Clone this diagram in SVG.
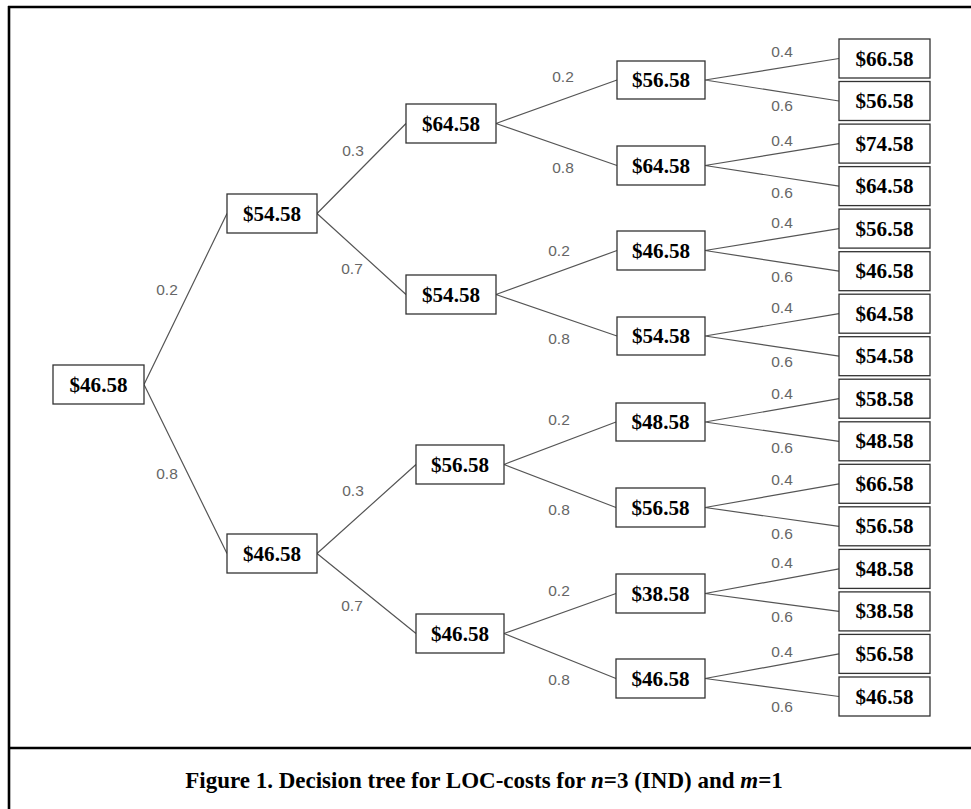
<svg xmlns="http://www.w3.org/2000/svg" width="971" height="809" viewBox="0 0 971 809">
<style>
.frame{stroke:#000;stroke-width:2.6;fill:none}
.box{fill:#fff;stroke:#333;stroke-width:1.3}
.val{font-family:"Liberation Serif","Times New Roman",serif;font-weight:bold;font-size:20px;fill:#000;text-anchor:middle}
.edge{stroke:#555;stroke-width:1.2;fill:none}
.p{font-family:"Liberation Sans",Arial,sans-serif;font-size:15.5px;fill:#666;text-anchor:middle}
.cap{font-family:"Liberation Serif","Times New Roman",serif;font-weight:bold;font-size:23px;fill:#000;text-anchor:middle}
</style>
<rect width="971" height="809" fill="#fff"/>
<g id="frame">
<line class="frame" x1="9" y1="6" x2="9" y2="809"/>
<line class="frame" x1="8" y1="7" x2="971" y2="7"/>
<line class="frame" x1="8" y1="748" x2="971" y2="748"/>
</g>
<g id="connectors">
<path class="edge" d="M144 384.5L227 213.5M144 384.5L227 553.5"/>
<path class="edge" d="M317 213.5L406 123.5M317 213.5L406 294.5M317 553.5L416 464.5M317 553.5L416 633.5"/>
<path class="edge" d="M496 123.5L617 80M496 123.5L617 165.5M496 294.5L617 250.5M496 294.5L617 336M504 464.5L616 422M504 464.5L616 507.5M504 633.5L616 593.5M504 633.5L616 678.5"/>
<path class="edge" d="M705 80L839 58.5M705 80L839 101M705 165.5L839 143.6M705 165.5L839 186.1M705 250.5L839 228.6M705 250.5L839 271.2M705 336L839 313.7M705 336L839 356.2M705 422L839 398.7M705 422L839 441.3M705 507.5L839 483.8M705 507.5L839 526.3M705 593.5L839 568.9M705 593.5L839 611.4M705 678.5L839 653.9M705 678.5L839 696.5"/>
<g id="edge-labels">
<text class="p" x="167" y="295">0.2</text>
<text class="p" x="167" y="479">0.8</text>
<text class="p" x="353" y="156">0.3</text>
<text class="p" x="352" y="274">0.7</text>
<text class="p" x="353" y="496">0.3</text>
<text class="p" x="352" y="611">0.7</text>
<text class="p" x="563" y="82">0.2</text>
<text class="p" x="563" y="173">0.8</text>
<text class="p" x="559" y="256">0.2</text>
<text class="p" x="559" y="344">0.8</text>
<text class="p" x="559" y="425">0.2</text>
<text class="p" x="559" y="515">0.8</text>
<text class="p" x="559" y="596">0.2</text>
<text class="p" x="559" y="685">0.8</text>
<text class="p" x="782" y="57">0.4</text>
<text class="p" x="782" y="111">0.6</text>
<text class="p" x="782" y="146">0.4</text>
<text class="p" x="782" y="198">0.6</text>
<text class="p" x="782" y="228">0.4</text>
<text class="p" x="782" y="282">0.6</text>
<text class="p" x="782" y="313">0.4</text>
<text class="p" x="782" y="367">0.6</text>
<text class="p" x="782" y="399">0.4</text>
<text class="p" x="782" y="453">0.6</text>
<text class="p" x="782" y="485">0.4</text>
<text class="p" x="782" y="539">0.6</text>
<text class="p" x="782" y="568">0.4</text>
<text class="p" x="782" y="622">0.6</text>
<text class="p" x="782" y="657">0.4</text>
<text class="p" x="782" y="712">0.6</text>
</g>
</g>
<g id="n-root"><rect class="box" x="53" y="365" width="91" height="39"/><text class="val" x="98.5" y="391.5" textLength="58" lengthAdjust="spacingAndGlyphs">$46.58</text></g>
<g id="n-a"><rect class="box" x="227" y="194" width="90" height="39"/><text class="val" x="272" y="220.5" textLength="58" lengthAdjust="spacingAndGlyphs">$54.58</text></g>
<g id="n-b"><rect class="box" x="227" y="534" width="90" height="39"/><text class="val" x="272" y="560.5" textLength="58" lengthAdjust="spacingAndGlyphs">$46.58</text></g>
<g id="n-aa"><rect class="box" x="406" y="104" width="90" height="39"/><text class="val" x="451" y="130.5" textLength="58" lengthAdjust="spacingAndGlyphs">$64.58</text></g>
<g id="n-ab"><rect class="box" x="406" y="275" width="90" height="39"/><text class="val" x="451" y="301.5" textLength="58" lengthAdjust="spacingAndGlyphs">$54.58</text></g>
<g id="n-ba"><rect class="box" x="416" y="445" width="88" height="39"/><text class="val" x="460" y="471.5" textLength="58" lengthAdjust="spacingAndGlyphs">$56.58</text></g>
<g id="n-bb"><rect class="box" x="416" y="614" width="88" height="39"/><text class="val" x="460" y="640.5" textLength="58" lengthAdjust="spacingAndGlyphs">$46.58</text></g>
<g id="n-aaa"><rect class="box" x="617" y="61" width="88" height="38"/><text class="val" x="661" y="87" textLength="58" lengthAdjust="spacingAndGlyphs">$56.58</text></g>
<g id="n-aab"><rect class="box" x="617" y="146" width="88" height="39"/><text class="val" x="661" y="172.5" textLength="58" lengthAdjust="spacingAndGlyphs">$64.58</text></g>
<g id="n-aba"><rect class="box" x="617" y="231" width="88" height="39"/><text class="val" x="661" y="257.5" textLength="58" lengthAdjust="spacingAndGlyphs">$46.58</text></g>
<g id="n-abb"><rect class="box" x="617" y="317" width="88" height="38"/><text class="val" x="661" y="343" textLength="58" lengthAdjust="spacingAndGlyphs">$54.58</text></g>
<g id="n-baa"><rect class="box" x="616" y="403" width="89" height="38"/><text class="val" x="660.5" y="429" textLength="58" lengthAdjust="spacingAndGlyphs">$48.58</text></g>
<g id="n-bab"><rect class="box" x="616" y="488" width="89" height="39"/><text class="val" x="660.5" y="514.5" textLength="58" lengthAdjust="spacingAndGlyphs">$56.58</text></g>
<g id="n-bba"><rect class="box" x="616" y="574" width="89" height="39"/><text class="val" x="660.5" y="600.5" textLength="58" lengthAdjust="spacingAndGlyphs">$38.58</text></g>
<g id="n-bbb"><rect class="box" x="616" y="659" width="89" height="39"/><text class="val" x="660.5" y="685.5" textLength="58" lengthAdjust="spacingAndGlyphs">$46.58</text></g>
<g id="leaf-1"><rect class="box" x="839" y="39" width="91" height="39"/><text class="val" x="884.5" y="65.5" textLength="58" lengthAdjust="spacingAndGlyphs">$66.58</text></g>
<g id="leaf-2"><rect class="box" x="839" y="81.5" width="91" height="39"/><text class="val" x="884.5" y="108" textLength="58" lengthAdjust="spacingAndGlyphs">$56.58</text></g>
<g id="leaf-3"><rect class="box" x="839" y="124.1" width="91" height="39"/><text class="val" x="884.5" y="150.6" textLength="58" lengthAdjust="spacingAndGlyphs">$74.58</text></g>
<g id="leaf-4"><rect class="box" x="839" y="166.6" width="91" height="39"/><text class="val" x="884.5" y="193.1" textLength="58" lengthAdjust="spacingAndGlyphs">$64.58</text></g>
<g id="leaf-5"><rect class="box" x="839" y="209.1" width="91" height="39"/><text class="val" x="884.5" y="235.6" textLength="58" lengthAdjust="spacingAndGlyphs">$56.58</text></g>
<g id="leaf-6"><rect class="box" x="839" y="251.7" width="91" height="39"/><text class="val" x="884.5" y="278.2" textLength="58" lengthAdjust="spacingAndGlyphs">$46.58</text></g>
<g id="leaf-7"><rect class="box" x="839" y="294.2" width="91" height="39"/><text class="val" x="884.5" y="320.7" textLength="58" lengthAdjust="spacingAndGlyphs">$64.58</text></g>
<g id="leaf-8"><rect class="box" x="839" y="336.7" width="91" height="39"/><text class="val" x="884.5" y="363.2" textLength="58" lengthAdjust="spacingAndGlyphs">$54.58</text></g>
<g id="leaf-9"><rect class="box" x="839" y="379.2" width="91" height="39"/><text class="val" x="884.5" y="405.7" textLength="58" lengthAdjust="spacingAndGlyphs">$58.58</text></g>
<g id="leaf-10"><rect class="box" x="839" y="421.8" width="91" height="39"/><text class="val" x="884.5" y="448.3" textLength="58" lengthAdjust="spacingAndGlyphs">$48.58</text></g>
<g id="leaf-11"><rect class="box" x="839" y="464.3" width="91" height="39"/><text class="val" x="884.5" y="490.8" textLength="58" lengthAdjust="spacingAndGlyphs">$66.58</text></g>
<g id="leaf-12"><rect class="box" x="839" y="506.8" width="91" height="39"/><text class="val" x="884.5" y="533.3" textLength="58" lengthAdjust="spacingAndGlyphs">$56.58</text></g>
<g id="leaf-13"><rect class="box" x="839" y="549.4" width="91" height="39"/><text class="val" x="884.5" y="575.9" textLength="58" lengthAdjust="spacingAndGlyphs">$48.58</text></g>
<g id="leaf-14"><rect class="box" x="839" y="591.9" width="91" height="39"/><text class="val" x="884.5" y="618.4" textLength="58" lengthAdjust="spacingAndGlyphs">$38.58</text></g>
<g id="leaf-15"><rect class="box" x="839" y="634.4" width="91" height="39"/><text class="val" x="884.5" y="660.9" textLength="58" lengthAdjust="spacingAndGlyphs">$56.58</text></g>
<g id="leaf-16"><rect class="box" x="839" y="677" width="91" height="39"/><text class="val" x="884.5" y="703.5" textLength="58" lengthAdjust="spacingAndGlyphs">$46.58</text></g>
<g id="caption"><text class="cap" x="484" y="788">Figure 1. Decision tree for LOC-costs for <tspan font-style="italic">n</tspan>=3 (IND) and <tspan font-style="italic">m</tspan>=1</text></g>
</svg>
